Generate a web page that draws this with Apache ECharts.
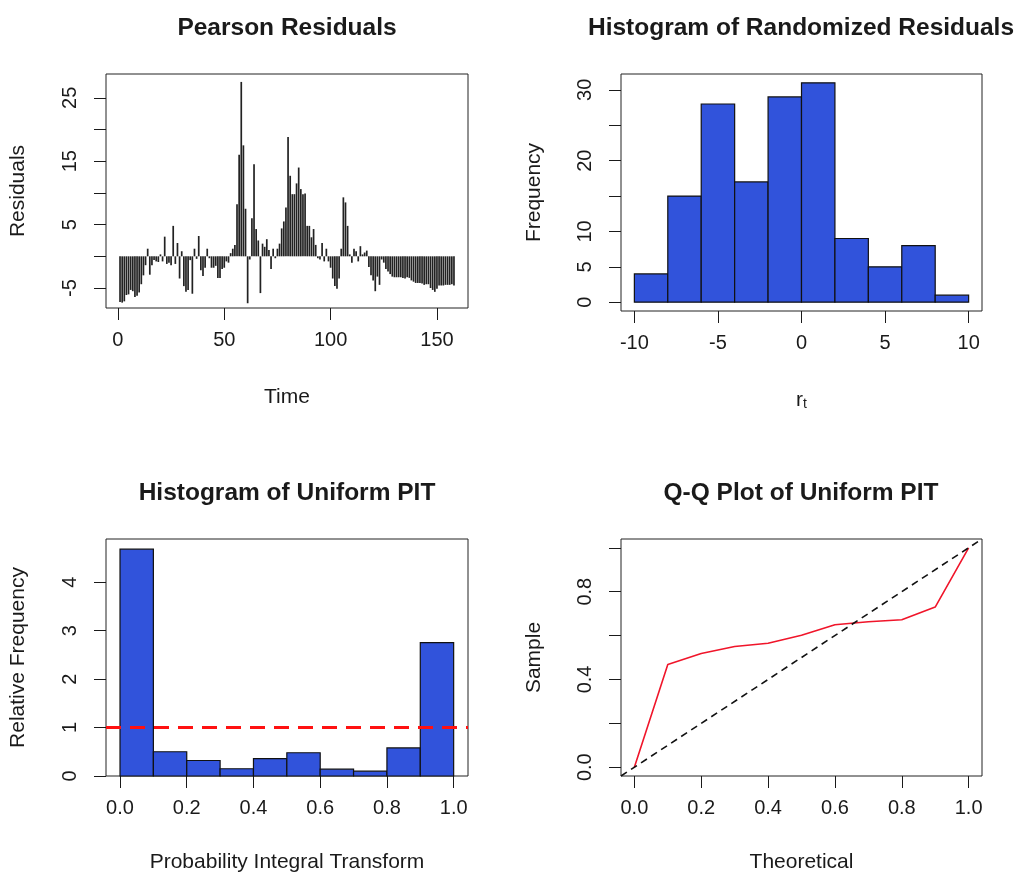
<!DOCTYPE html>
<html>
<head>
<meta charset="utf-8">
<script src="https://cdn.jsdelivr.net/npm/echarts@6/dist/echarts.min.js"></script>
<style>
  html, body { margin: 0; padding: 0; background: #fff; }
  #main { width: 1021px; height: 877px; }
</style>
</head>
<body>
<div id="main"></div>
<script>
// Pearson residuals over time (t = 1..158)
var residuals = [
  -7.2, -7.3, -7.1, -6.1, -6.0, -5.3, -5.5, -6.4, -6.2, -5.7,
  -4.4, -3.0, -1.4, 1.2, -2.9, -1.4, -0.6, -0.8, -0.9, 0.3,
  -0.8, 3.1, -1.2, -1.0, -1.4, 4.8, -1.2, 2.1, -3.5, 0.8,
  -4.7, -5.6, -5.3, -0.6, -5.9, 1.2, -0.4, 3.2, -2.2, -3.1,
  -1.8, 1.2, -0.3, -1.8, -1.8, -1.5, -3.4, -3.4, -2.0, -1.8,
  -0.8, -1.0, 0.5, 1.2, 1.8, 8.2, 16.0, 27.5, 17.5, 7.5,
  -7.4, -0.5, 6.0, 14.5, 4.3, 2.5, -5.8, 2.0, 1.5, 2.7,
  1.0, -2.0, 1.2, -0.3, 1.2, 2.0, 4.4, 5.5, 7.7, 18.8,
  12.7, 9.8, 9.8, 11.5, 14.0, 10.6, 9.8, 9.9, 4.8, 4.8,
  3.0, 4.3, 1.8, -0.3, -0.5, 2.1, -0.8, 1.2, -0.8, -1.8,
  -3.5, -4.7, -5.1, -3.5, 1.2, 9.3, 8.5, 4.8, 0.3, -1.0,
  1.2, 0.8, -0.8, 1.6, 0.3, 0.6, 0.9, -1.7, -3.0, -3.8,
  -5.5, -3.2, -4.5, -0.5, -1.0, -2.0, -2.4, -2.8, -3.2, -3.3,
  -3.3, -3.3, -3.3, -3.4, -3.5, -3.3, -3.4, -3.8, -4.0, -4.2,
  -4.2, -4.2, -4.3, -4.5, -4.4, -4.4, -5.0, -5.3, -5.6, -5.1,
  -4.6, -4.6, -4.6, -4.5, -4.5, -4.5, -4.4, -4.6
];

// histogram of randomized residuals
var residBreaks = [-10, -8, -6, -4, -2, 0, 2, 4, 6, 8, 10];
var residCounts = [4, 15, 28, 17, 29, 31, 9, 5, 8, 1];

// histogram of uniform PIT (density)
var pitBreaks = [0, 0.1, 0.2, 0.3, 0.4, 0.5, 0.6, 0.7, 0.8, 0.9, 1.0];
var pitDensity = [4.68, 0.50, 0.32, 0.15, 0.36, 0.48, 0.14, 0.10, 0.58, 2.75];

// Q-Q plot of uniform PIT
var qqTheoretical = [0, 0.1, 0.2, 0.3, 0.4, 0.5, 0.6, 0.7, 0.8, 0.9, 1.0];
var qqSample = [0, 0.468, 0.518, 0.550, 0.565, 0.601, 0.649, 0.663, 0.672, 0.730, 1.0];

// tick marks and labels
var timeTicks = [0, 50, 100, 150];
var residTicks = [-5, 0, 5, 10, 15, 20, 25];
var residLabels = [-5, 5, 15, 25];
var rTicks = [-10, -5, 0, 5, 10];
var freqTicks = [0, 5, 10, 15, 20, 25, 30];
var freqLabels = [0, 5, 10, 20, 30];
var pitTicks = [0, 0.2, 0.4, 0.6, 0.8, 1.0];
var relTicks = [0, 1, 2, 3, 4];
var sampleLabels = [0, 0.4, 0.8];

var FONT = '"Liberation Sans", Arial, Helvetica, sans-serif';
var BLUE = '#3153db';
var INK = '#1a1a1a';

var chart = echarts.init(document.getElementById('main'));

function makeAxis(gridIndex, min, max, ticks, labels, name, nameGap, opts) {
  opts = opts || {};
  return {
    type: 'value',
    gridIndex: gridIndex,
    min: min,
    max: max,
    name: name,
    nameLocation: 'middle',
    nameGap: nameGap,
    nameTextStyle: { fontFamily: FONT, fontSize: 21, color: INK, rich: opts.rich },
    axisLine: { show: false, onZero: false },
    splitLine: { show: false },
    axisTick: {
      show: true, inside: false, length: 12,
      customValues: ticks,
      lineStyle: { color: INK, width: 1 }
    },
    axisLabel: {
      customValues: labels,
      rotate: opts.rotate || 0,
      margin: opts.margin || 22,
      fontFamily: FONT, fontSize: 20, color: INK,
      formatter: opts.fmt || function(v) { return String(v); }
    }
  };
}

function oneDecimal(v) { return v.toFixed(1); }

function histItem(color) {
  return function(params, api) {
    var p0 = api.coord([api.value(0), api.value(2)]);
    var p1 = api.coord([api.value(1), 0]);
    return {
      type: 'rect',
      shape: { x: p0[0], y: p0[1], width: p1[0] - p0[0], height: p1[1] - p0[1] },
      style: { fill: color, stroke: '#111', lineWidth: 1.2 }
    };
  };
}

function spikeItem(params, api) {
  var a = api.coord([api.value(0), 0]);
  var b = api.coord([api.value(0), api.value(1)]);
  return {
    type: 'line',
    shape: { x1: a[0], y1: a[1], x2: b[0], y2: b[1] },
    style: { stroke: '#222', lineWidth: 1.7 }
  };
}

var residData = [];
for (var i = 0; i < residuals.length; i++) {
  residData.push([i + 1, residuals[i]]);
}
var residHist = [];
for (var j = 0; j < residCounts.length; j++) {
  residHist.push([residBreaks[j], residBreaks[j + 1], residCounts[j]]);
}
var pitHist = [];
for (var k = 0; k < pitDensity.length; k++) {
  pitHist.push([pitBreaks[k], pitBreaks[k + 1], pitDensity[k]]);
}
var qqData = [];
for (var q = 0; q < qqSample.length; q++) {
  qqData.push([qqTheoretical[q], qqSample[q]]);
}

var gridStyle = { show: true, borderColor: '#222', borderWidth: 1, backgroundColor: 'transparent' };
var titleStyle = { fontFamily: FONT, fontSize: 24.5, fontWeight: 'bold', color: INK };

var option = {
  backgroundColor: '#fff',
  animation: false,
  title: [
    { text: 'Pearson Residuals', left: 282, top: 11, textAlign: 'center', textStyle: titleStyle },
    { text: 'Histogram of Randomized Residuals', left: 796, top: 11, textAlign: 'center', textStyle: titleStyle },
    { text: 'Histogram of Uniform PIT', left: 282, top: 476, textAlign: 'center', textStyle: titleStyle },
    { text: 'Q-Q Plot of Uniform PIT', left: 796, top: 476, textAlign: 'center', textStyle: titleStyle }
  ],
  grid: [
    Object.assign({ left: 106, top: 74, width: 362, height: 234 }, gridStyle),
    Object.assign({ left: 621, top: 74, width: 361, height: 237 }, gridStyle),
    Object.assign({ left: 106, top: 539, width: 362, height: 237 }, gridStyle),
    Object.assign({ left: 621, top: 539, width: 361, height: 237 }, gridStyle)
  ],
  xAxis: [
    makeAxis(0, -5.6, 164.6, timeTicks, timeTicks, 'Time', 79),
    makeAxis(1, -10.8, 10.8, rTicks, rTicks, '{r|r}{t|t}', 79, {
      rich: {
        r: { fontFamily: FONT, fontSize: 21, color: INK, padding: [0, 0, 7, 0] },
        t: { fontFamily: FONT, fontSize: 14, color: INK }
      }
    }),
    makeAxis(2, -0.042, 1.043, pitTicks, pitTicks, 'Probability Integral Transform', 76, { fmt: oneDecimal }),
    makeAxis(3, -0.04, 1.04, pitTicks, pitTicks, 'Theoretical', 76, { fmt: oneDecimal })
  ],
  yAxis: [
    makeAxis(0, -8.15, 28.75, residTicks, residLabels, 'Residuals', 77, { rotate: 90, margin: 26 }),
    makeAxis(1, -1.24, 32.24, freqTicks, freqLabels, 'Frequency', 76, { rotate: 90, margin: 26 }),
    makeAxis(2, 0, 4.89, relTicks, relTicks, 'Relative Frequency', 77, { rotate: 90, margin: 26 }),
    makeAxis(3, -0.04, 1.04, pitTicks, sampleLabels, 'Sample', 76, { rotate: 90, margin: 26, fmt: oneDecimal })
  ],
  series: [
    {
      type: 'custom', xAxisIndex: 0, yAxisIndex: 0,
      renderItem: spikeItem, data: residData, silent: true
    },
    {
      type: 'custom', xAxisIndex: 1, yAxisIndex: 1,
      renderItem: histItem(BLUE), encode: { x: [0, 1], y: 2 },
      data: residHist, silent: true
    },
    {
      type: 'custom', xAxisIndex: 2, yAxisIndex: 2,
      renderItem: histItem(BLUE), encode: { x: [0, 1], y: 2 },
      data: pitHist, silent: true,
      markLine: {
        silent: true, symbol: 'none', label: { show: false },
        lineStyle: { color: '#ff1111', width: 3, type: [15, 9] },
        data: [{ yAxis: 1 }]
      }
    },
    {
      type: 'line', xAxisIndex: 3, yAxisIndex: 3,
      data: qqData, symbol: 'none', silent: true,
      lineStyle: { color: '#f0152a', width: 1.6 },
      markLine: {
        silent: true, symbol: 'none', label: { show: false },
        lineStyle: { color: '#111', width: 1.6, type: [7, 5] },
        data: [[{ coord: [-0.04, -0.04] }, { coord: [1.04, 1.04] }]]
      }
    }
  ]
};

chart.setOption(option);
</script>
</body>
</html>
